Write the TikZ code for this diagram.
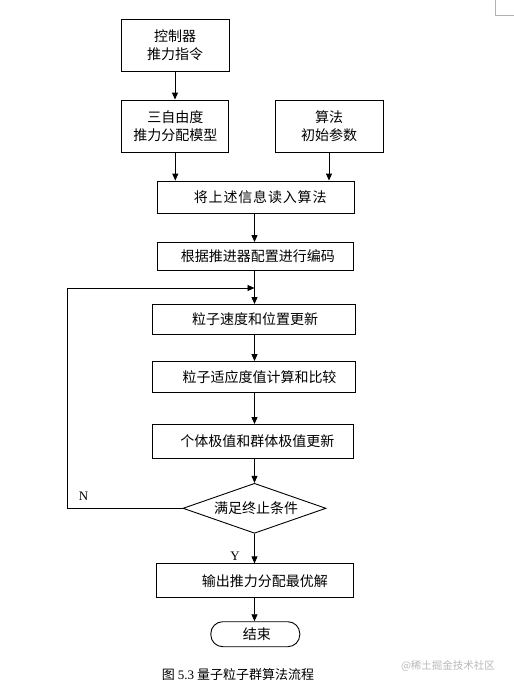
\documentclass[tikz,border=0pt]{standalone}
\usepackage{fontspec}
\setmainfont{Liberation Serif}
\newfontfamily\cjk{Noto Sans CJK SC}
\newfontfamily\cjkls{Noto Sans CJK SC}[LetterSpace=6]
\usetikzlibrary{arrows.meta,shapes.geometric}
\tikzset{
  box/.style={draw,line width=0.9pt,inner sep=0pt,font=\cjk\fontsize{14}{18.5}\selectfont,align=center},
  dia/.style={draw,diamond,line width=0.9pt,inner sep=0pt,shape aspect=2.86,font=\cjk\fontsize{14}{18}\selectfont},
  term/.style={draw,line width=0.9pt,inner sep=0pt,rounded corners=12pt,font=\cjk\fontsize{14}{18}\selectfont},
  arr/.style={line width=0.9pt,-{Triangle[length=7pt,width=6pt]}},
  lab/.style={font=\fontsize{13}{15}\selectfont,inner sep=0pt}
}
\begin{document}
\begin{tikzpicture}[x=1pt,y=-1pt]
\useasboundingbox[fill=white] (0,0) rectangle (514,689);
% corner mark
\draw[gray!60,line width=0.8pt] (495,0) -- (495,15) -- (514,15);

\node[box,minimum width=108pt,minimum height=52pt] (b1) at (175,45) {控制器\\推力指令};
\node[box,minimum width=107pt,minimum height=52pt] (b2) at (175.3,126) {三自由度\\推力分配模型};
\node[box,minimum width=108pt,minimum height=52pt] (b3) at (329,126) {算法\\初始参数};
\node[box,minimum width=197pt,minimum height=32pt] (b4) at (255.7,197) {\hspace*{9pt}{\cjkls 将上述信息读入算法}};
\node[box,minimum width=196pt,minimum height=28pt] (b5) at (255.3,256.5) {\hspace*{5pt}根据推进器配置进行编码};
\node[box,minimum width=203pt,minimum height=30pt] (b6) at (254,319.5) {\hspace*{2pt}粒子速度和位置更新};
\node[box,minimum width=203pt,minimum height=31pt] (b7) at (254,377) {\hspace*{11pt}粒子适应度值计算和比较};
\node[box,minimum width=201pt,minimum height=34pt] (b8) at (252.8,441.5) {\hspace*{9pt}个体极值和群体极值更新};
\node[dia,minimum width=143pt,minimum height=50pt] (dm) at (254.5,508.3) {\hspace*{3pt}满足终止条件};
\node[box,minimum width=197pt,minimum height=34pt] (b9) at (255.3,580.8) {\hspace*{19pt}输出推力分配最优解};
\node[term,minimum width=89pt,minimum height=25pt] (end) at (255.3,634.2) {\hspace*{3pt}结束};

\node[lab] (nN) at (83.5,496) {N};
\node[lab] (nY) at (235,556) {Y};

\coordinate (lp) at (67,288);
\coordinate (j) at (254.5,288);

\draw[arr] (b1.south) -- (b1.south |- b2.north);
\draw[arr] (b2.south) -- (b2.south |- b4.north);
\draw[arr] (b3.south) -- (b3.south |- b4.north);
\draw[arr] (b4.south -| j) -- (j |- b5.north);
\draw[arr] (b5.south -| j) -- (j |- b6.north);
\draw[arr] (b6.south -| j) -- (j |- b7.north);
\draw[arr] (b7.south -| j) -- (j |- b8.north);
\draw[arr] (b8.south -| j) -- (dm.north);
\draw[arr] (dm.south) -- (dm.south |- b9.north);
\draw[arr] (b9.south -| dm.south) -- (dm.south |- end.north);
\draw[arr] (dm.west) -| (lp) -- (j);

\node[inner sep=0pt] (cap) at (238,675) {\cjk\fontsize{13}{15}\selectfont 图 {\rmfamily 5.3} 量子粒子群算法流程};
\node[inner sep=0pt,text=gray!55] (wm) at (448,666) {\cjk\fontsize{10.5}{12}\selectfont @稀土掘金技术社区};
\end{tikzpicture}
\end{document}
